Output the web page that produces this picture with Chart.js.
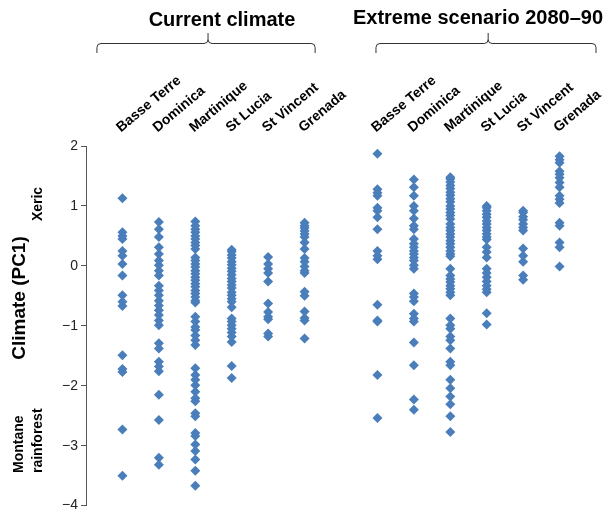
<!DOCTYPE html>
<html>
<head>
<meta charset="utf-8">
<script src="https://cdn.jsdelivr.net/npm/chart.js@4"></script>
<style>
  html, body { margin: 0; padding: 0; background: #ffffff; }
  #wrap { width: 606px; height: 517px; }
</style>
</head>
<body>
<div id="wrap"><canvas id="c" width="606" height="517"></canvas></div>
<script>
// Islands, in the order they appear within each scenario block
const islands = ['Basse Terre', 'Dominica', 'Martinique', 'St Lucia', 'St Vincent', 'Grenada'];
const scenarios = ['Current climate', 'Extreme scenario 2080\u201390'];

// Climate PC1 score of each site, current climate
const curBasseTerre = [1.13, 0.56, 0.50, 0.45, 0.25, 0.17, 0.03, -0.16, -0.49, -0.60, -0.67, -1.49, -1.72, -1.77, -2.73, -3.50];
const curDominica = [0.73, 0.61, 0.48, 0.31, 0.20, 0.09, 0.01, -0.08, -0.16, -0.33, -0.41, -0.49, -0.58, -0.66, -0.74, -0.82, -0.91, -0.99, -1.29, -1.38, -1.60, -1.68, -1.76, -2.15, -2.57, -3.20, -3.32];
const curMartinique = [0.74, 0.67, 0.61, 0.56, 0.50, 0.45, 0.39, 0.34, 0.28, 0.14, 0.09, 0.03, -0.02, -0.08, -0.13, -0.19, -0.24, -0.30, -0.35, -0.41, -0.46, -0.52, -0.58, -0.61, -0.85, -0.93, -1.02, -1.07, -1.16, -1.24, -1.32, -1.71, -1.82, -1.90, -1.99, -2.10, -2.21, -2.26, -2.46, -2.51, -2.79, -2.84, -2.98, -3.09, -3.23, -3.42, -3.67];
const curStLucia = [0.27, 0.24, 0.18, 0.13, 0.07, 0.02, -0.04, -0.09, -0.15, -0.21, -0.26, -0.32, -0.37, -0.44, -0.49, -0.55, -0.60, -0.69, -0.88, -0.93, -0.99, -1.05, -1.11, -1.18, -1.27, -1.67, -1.87];
const curStVincent = [0.15, 0.03, -0.05, -0.12, -0.26, -0.63, -0.77, -0.85, -0.89, -1.13, -1.18];
const curGrenada = [0.72, 0.67, 0.63, 0.58, 0.53, 0.48, 0.39, 0.28, 0.13, 0.07, -0.01, -0.08, -0.12, -0.43, -0.50, -0.76, -0.87, -0.91, -1.21];

// Climate PC1 score of each site, extreme scenario 2080-90
const extBasseTerre = [1.87, 1.28, 1.22, 1.17, 0.97, 0.92, 0.81, 0.61, 0.25, 0.17, 0.11, -0.65, -0.91, -0.93, -1.82, -2.54];
const extDominica = [1.44, 1.31, 1.17, 1.00, 0.92, 0.79, 0.67, 0.61, 0.45, 0.37, 0.31, 0.25, 0.20, 0.14, 0.09, 0.01, -0.05, -0.46, -0.52, -0.59, -0.80, -0.88, -0.93, -1.28, -1.66, -2.23, -2.40];
const extMartinique = [1.48, 1.45, 1.40, 1.34, 1.29, 1.23, 1.18, 1.12, 1.07, 1.00, 0.95, 0.89, 0.84, 0.78, 0.70, 0.64, 0.59, 0.53, 0.48, 0.42, 0.37, 0.31, 0.25, 0.20, 0.16, -0.05, -0.16, -0.22, -0.27, -0.33, -0.38, -0.44, -0.49, -0.88, -0.99, -1.05, -1.18, -1.24, -1.38, -1.60, -1.66, -1.90, -2.04, -2.18, -2.31, -2.51, -2.77];
const extStLucia = [1.00, 0.97, 0.92, 0.86, 0.81, 0.75, 0.70, 0.64, 0.59, 0.53, 0.48, 0.44, 0.31, 0.23, 0.14, -0.05, -0.12, -0.19, -0.26, -0.33, -0.39, -0.44, -0.79, -0.98];
const extStVincent = [0.92, 0.89, 0.82, 0.77, 0.70, 0.64, 0.59, 0.29, 0.17, 0.07, -0.16, -0.23];
const extGrenada = [1.83, 1.77, 1.72, 1.58, 1.53, 1.47, 1.39, 1.31, 1.17, 1.11, 1.05, 0.72, 0.67, 0.39, 0.31, -0.01];

const yTicks = [2, 1, 0, -1, -2, -3, -4];

const currentSeries = [curBasseTerre, curDominica, curMartinique, curStLucia, curStVincent, curGrenada];
const extremeSeries = [extBasseTerre, extDominica, extMartinique, extStLucia, extStVincent, extGrenada];

// x slots: 1..6 current, 7 left empty as a spacer, 8..13 extreme
const slotLabels = {};
islands.forEach((name, i) => { slotLabels[i + 1] = name; slotLabels[i + 8] = name; });

const markerColor = '#4a7ebb';
const datasets = [];
currentSeries.forEach((vals, i) => {
  datasets.push({ label: scenarios[0] + ' ' + islands[i], data: vals.map(v => ({ x: i + 1, y: v })) });
});
extremeSeries.forEach((vals, i) => {
  datasets.push({ label: scenarios[1] + ' ' + islands[i], data: vals.map(v => ({ x: i + 8, y: v })) });
});
datasets.forEach(d => Object.assign(d, {
  pointStyle: 'rectRot',
  pointRadius: 5,
  pointHoverRadius: 5,
  pointBorderWidth: 0,
  backgroundColor: markerColor,
  borderColor: markerColor
}));

const FONT = '"Liberation Sans", Arial, Helvetica, sans-serif';

// Group headings with curly brackets, and the y-axis annotations
const annotations = {
  id: 'annotations',
  afterDraw(chart) {
    const ctx = chart.ctx;
    const xs = chart.scales.x;
    ctx.save();

    ctx.fillStyle = '#000';
    ctx.textBaseline = 'alphabetic';
    ctx.textAlign = 'center';
    ctx.font = 'bold 20px ' + FONT;
    ctx.fillText(scenarios[0], 222, 26);
    ctx.fillText(scenarios[1], 478, 24);

    const brace = (from, mid, to) => {
      const L = xs.getPixelForValue(from), M = xs.getPixelForValue(mid), R = xs.getPixelForValue(to);
      const yl = 43.5, yEnd = 53, yTop = 33;
      ctx.beginPath();
      ctx.moveTo(L, yEnd);
      ctx.lineTo(L, yl + 4);
      ctx.quadraticCurveTo(L, yl, L + 4, yl);
      ctx.lineTo(M - 4, yl);
      ctx.quadraticCurveTo(M, yl, M, yl - 4);
      ctx.lineTo(M, yTop);
      ctx.moveTo(M, yl - 4);
      ctx.quadraticCurveTo(M, yl, M + 4, yl);
      ctx.lineTo(R - 4, yl);
      ctx.quadraticCurveTo(R, yl, R, yl + 4);
      ctx.lineTo(R, yEnd);
      ctx.stroke();
    };
    ctx.strokeStyle = '#333';
    ctx.lineWidth = 1;
    brace(0.30, 3.35, 6.29);
    brace(7.96, 11.04, 14.0);

    const vText = (txt, x, y, font, align) => {
      ctx.save();
      ctx.translate(x, y);
      ctx.rotate(-Math.PI / 2);
      ctx.font = font;
      ctx.textAlign = align;
      ctx.textBaseline = 'middle';
      ctx.fillText(txt, 0, 0);
      ctx.restore();
    };
    vText('Climate (PC1)', 20, 298, 'bold 19px ' + FONT, 'center');
    vText('Xeric', 38, 204, 'bold 14px ' + FONT, 'center');
    vText('Montane', 19, 473, 'bold 14px ' + FONT, 'left');
    vText('rainforest', 38, 473, 'bold 14px ' + FONT, 'left');

    ctx.restore();
  }
};

new Chart(document.getElementById('c'), {
  type: 'scatter',
  data: { datasets },
  options: {
    responsive: false,
    animation: false,
    devicePixelRatio: 1,
    layout: { padding: { top: 0, right: 10, bottom: 9, left: 0 } },
    plugins: {
      legend: { display: false },
      tooltip: { enabled: false }
    },
    scales: {
      x: {
        type: 'linear',
        position: 'top',
        min: 0,
        max: 14,
        afterFit(scale) { scale.height = 146; },
        afterBuildTicks(scale) {
          scale.ticks = Array.from({ length: 15 }, (_, i) => ({ value: i }));
        },
        grid: { display: false, drawTicks: false },
        border: { display: false },
        ticks: {
          autoSkip: false,
          minRotation: 40,
          maxRotation: 40,
          padding: 10,
          labelOffset: 7,
          color: '#000',
          font: { family: FONT, size: 14, weight: 'bold' },
          callback: v => slotLabels[v] || ''
        }
      },
      y: {
        min: -4,
        max: 2,
        afterFit(scale) { scale.width = 86; },
        afterBuildTicks(scale) {
          scale.ticks = yTicks.map(v => ({ value: v }));
        },
        grid: {
          display: true,
          drawOnChartArea: false,
          drawTicks: true,
          tickLength: 5,
          color: '#555'
        },
        border: { display: true, color: '#555', width: 1 },
        ticks: {
          padding: 3,
          color: '#222',
          font: { family: FONT, size: 14 },
          callback: v => (v < 0 ? '\u2212' + Math.abs(v) : String(v))
        }
      }
    }
  },
  plugins: [annotations]
});
</script>
</body>
</html>
